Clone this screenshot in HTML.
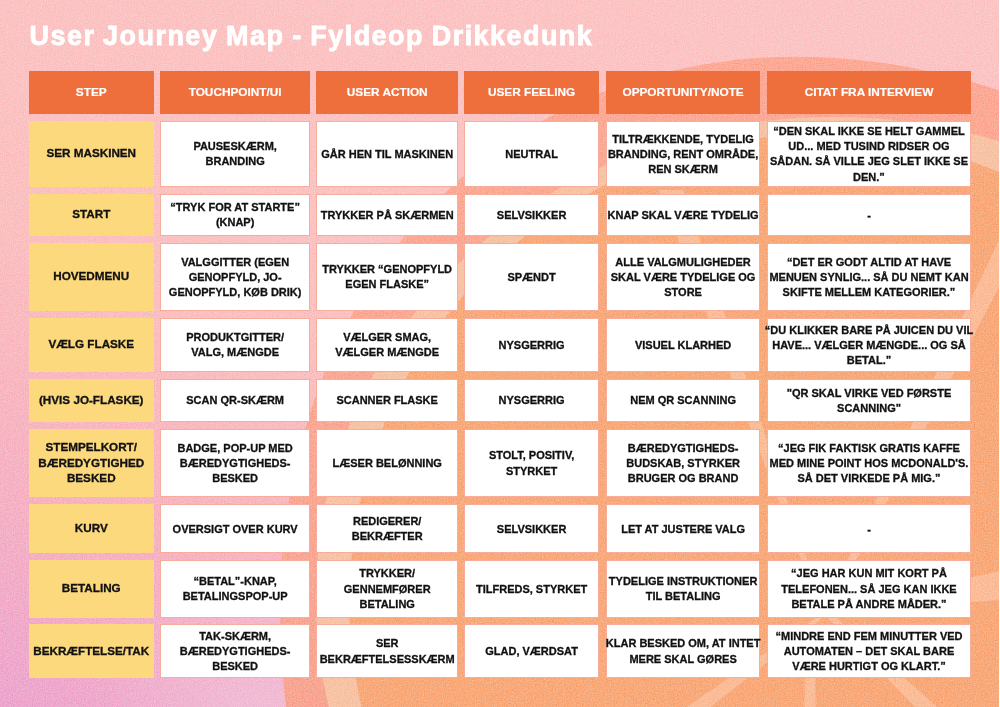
<!DOCTYPE html>
<html><head><meta charset="utf-8"><title>User Journey Map</title>
<style>
html,body{margin:0;padding:0}
body{width:1000px;height:707px;overflow:hidden;position:relative;background:#f9c4c4;font-family:"Liberation Sans",sans-serif}
.bg{position:absolute;left:0;top:0;width:1000px;height:707px;display:block}
.circ{position:absolute;border-radius:50%}
.title{position:absolute;left:29.5px;top:16px;font-weight:bold;font-size:27px;line-height:40px;color:#fff;white-space:nowrap;letter-spacing:1.45px;word-spacing:-1.2px;-webkit-text-stroke:0.8px #fff}
.c{position:absolute;box-sizing:border-box;display:flex;align-items:center;justify-content:center;text-align:center;font-weight:bold;white-space:nowrap}
.c span{display:block}
.h{background:#ee6e3c;color:#fff;font-size:11.8px;line-height:15px;-webkit-text-stroke:0.2px #fff}
.y{background:#fdd97e;color:#111;font-size:11.7px;line-height:15.5px;-webkit-text-stroke:0.3px #111}
.w{background:#fff;color:#111;font-size:11px;line-height:15.2px;border:1px solid #f7ad9c;-webkit-text-stroke:0.3px #111}
.c span{position:relative;top:0.6px}
.y span{top:-0.7px}
.edge{position:absolute;right:0;top:0;width:1px;height:707px;background:#fff}

</style></head><body>
<svg class="bg" width="1000" height="707" viewBox="0 0 1000 707">
<defs>
<linearGradient id="bgg" x1="0.7" y1="0" x2="0" y2="1">
<stop offset="0" stop-color="#fcc5c5"/>
<stop offset="0.4" stop-color="#fcc3c3"/>
<stop offset="0.54" stop-color="#fbc0c0"/>
<stop offset="0.68" stop-color="#f9b8c1"/>
<stop offset="0.82" stop-color="#f5b1c6"/>
<stop offset="1" stop-color="#eda6cf"/>
</linearGradient>
<radialGradient id="glow" cx="260" cy="715" r="170" gradientUnits="userSpaceOnUse">
<stop offset="0" stop-color="#f0c8e0" stop-opacity="0.6"/>
<stop offset="1" stop-color="#f0c8e0" stop-opacity="0"/>
</radialGradient>
<linearGradient id="rindg" x1="0.6" y1="0" x2="0.2" y2="0.9">
<stop offset="0" stop-color="#fdaa96"/>
<stop offset="1" stop-color="#f3a090"/>
</linearGradient>
<filter id="nz" x="0" y="0" width="100%" height="100%" color-interpolation-filters="sRGB"><feTurbulence type="fractalNoise" baseFrequency="0.9" numOctaves="2" seed="3" stitchTiles="stitch"/><feColorMatrix type="matrix" values="0.33 0.33 0.33 0 0  0.33 0.33 0.33 0 0  0.33 0.33 0.33 0 0  0 0 0 0 1"/><feComponentTransfer><feFuncR type="linear" slope="3" intercept="-1"/><feFuncG type="linear" slope="3" intercept="-1"/><feFuncB type="linear" slope="3" intercept="-1"/></feComponentTransfer></filter>
<clipPath id="fc"><circle cx="815.6" cy="600.9" r="466.3"/></clipPath>
</defs>
<rect width="1000" height="707" fill="url(#bgg)"/>
<rect width="1000" height="707" fill="url(#glow)"/>
<ellipse cx="934.2" cy="760.2" rx="599.4" ry="750.9" transform="rotate(-35.48 934.2 760.2)" fill="url(#rindg)"/>
<ellipse cx="851.7" cy="614.6" rx="537.9" ry="495.6" transform="rotate(12.52 851.7 614.6)" fill="#f7c4a6"/>
<circle cx="815.6" cy="600.9" r="466.3" fill="#f9aa7b"/>
<g clip-path="url(#fc)" fill="#fcc6a6" opacity="0.7">
<polygon points="826,610 826,614 1000,600 1000,571"/>
<polygon points="824,610 828,614 1012,262 1000,238"/>
<polygon points="824,612 828,614 694,720 668,720"/>
<polygon points="806,630 814,630 816,720 804,720"/>
<polygon points="824,614 828,610 952,720 928,720"/>
<polygon points="820,608 824,610 683,190 659,190"/>
</g>
<rect width="1000" height="707" filter="url(#nz)" opacity="0.2" style="mix-blend-mode:overlay"/>
<rect x="999" y="0" width="1" height="707" fill="#fff"/>
</svg>
<div class="title">User Journey Map - Fyldeop Drikkedunk</div>
<div class="c h" style="left:28.5px;top:70.75px;width:125.50px;height:43.15px"><span>STEP</span></div>
<div class="c h" style="left:160.3px;top:70.75px;width:149.70px;height:43.15px"><span>TOUCHPOINT/UI</span></div>
<div class="c h" style="left:316.4px;top:70.75px;width:141.60px;height:43.15px"><span>USER ACTION</span></div>
<div class="c h" style="left:464.2px;top:70.75px;width:134.80px;height:43.15px"><span>USER FEELING</span></div>
<div class="c h" style="left:606px;top:70.75px;width:154.20px;height:43.15px"><span>OPPORTUNITY/NOTE</span></div>
<div class="c h" style="left:767px;top:70.75px;width:204.00px;height:43.15px"><span>CITAT FRA INTERVIEW</span></div>
<div class="c y" style="left:28.5px;top:120.65px;width:125.50px;height:66.35px"><span>SER MASKINEN</span></div>
<div class="c w" style="left:160.3px;top:120.65px;width:149.70px;height:66.35px"><span>PAUSESKÆRM,<br>BRANDING</span></div>
<div class="c w" style="left:316.4px;top:120.65px;width:141.60px;height:66.35px"><span>GÅR HEN TIL MASKINEN</span></div>
<div class="c w" style="left:464.2px;top:120.65px;width:134.80px;height:66.35px"><span>NEUTRAL</span></div>
<div class="c w" style="left:606px;top:120.65px;width:154.20px;height:66.35px"><span>TILTRÆKKENDE, TYDELIG<br>BRANDING, RENT OMRÅDE,<br>REN SKÆRM</span></div>
<div class="c w" style="left:767px;top:120.65px;width:204.00px;height:66.35px"><span>“DEN SKAL IKKE SE HELT GAMMEL<br>UD... MED TUSIND RIDSER OG<br>SÅDAN. SÅ VILLE JEG SLET IKKE SE<br>DEN.”</span></div>
<div class="c y" style="left:28.5px;top:193.65px;width:125.50px;height:42.10px"><span>START</span></div>
<div class="c w" style="left:160.3px;top:193.65px;width:149.70px;height:42.10px"><span>“TRYK FOR AT STARTE”<br>(KNAP)</span></div>
<div class="c w" style="left:316.4px;top:193.65px;width:141.60px;height:42.10px"><span>TRYKKER PÅ SKÆRMEN</span></div>
<div class="c w" style="left:464.2px;top:193.65px;width:134.80px;height:42.10px"><span>SELVSIKKER</span></div>
<div class="c w" style="left:606px;top:193.65px;width:154.20px;height:42.10px"><span>KNAP SKAL VÆRE TYDELIG</span></div>
<div class="c w" style="left:767px;top:193.65px;width:204.00px;height:42.10px"><span>-</span></div>
<div class="c y" style="left:28.5px;top:242.5px;width:125.50px;height:68.50px"><span>HOVEDMENU</span></div>
<div class="c w" style="left:160.3px;top:242.5px;width:149.70px;height:68.50px"><span>VALGGITTER (EGEN<br>GENOPFYLD, JO-<br>GENOPFYLD, KØB DRIK)</span></div>
<div class="c w" style="left:316.4px;top:242.5px;width:141.60px;height:68.50px"><span>TRYKKER “GENOPFYLD<br>EGEN FLASKE”</span></div>
<div class="c w" style="left:464.2px;top:242.5px;width:134.80px;height:68.50px"><span>SPÆNDT</span></div>
<div class="c w" style="left:606px;top:242.5px;width:154.20px;height:68.50px"><span>ALLE VALGMULIGHEDER<br>SKAL VÆRE TYDELIGE OG<br>STORE</span></div>
<div class="c w" style="left:767px;top:242.5px;width:204.00px;height:68.50px"><span>“DET ER GODT ALTID AT HAVE<br>MENUEN SYNLIG... SÅ DU NEMT KAN<br>SKIFTE MELLEM KATEGORIER.”</span></div>
<div class="c y" style="left:28.5px;top:317.6px;width:125.50px;height:54.30px"><span>VÆLG FLASKE</span></div>
<div class="c w" style="left:160.3px;top:317.6px;width:149.70px;height:54.30px"><span>PRODUKTGITTER/<br>VALG, MÆNGDE</span></div>
<div class="c w" style="left:316.4px;top:317.6px;width:141.60px;height:54.30px"><span>VÆLGER SMAG,<br>VÆLGER MÆNGDE</span></div>
<div class="c w" style="left:464.2px;top:317.6px;width:134.80px;height:54.30px"><span>NYSGERRIG</span></div>
<div class="c w" style="left:606px;top:317.6px;width:154.20px;height:54.30px"><span>VISUEL KLARHED</span></div>
<div class="c w" style="left:767px;top:317.6px;width:204.00px;height:54.30px"><span>“DU KLIKKER BARE PÅ JUICEN DU VIL<br>HAVE... VÆLGER MÆNGDE... OG SÅ<br>BETAL.”</span></div>
<div class="c y" style="left:28.5px;top:378.7px;width:125.50px;height:43.30px"><span>(HVIS JO-FLASKE)</span></div>
<div class="c w" style="left:160.3px;top:378.7px;width:149.70px;height:43.30px"><span>SCAN QR-SKÆRM</span></div>
<div class="c w" style="left:316.4px;top:378.7px;width:141.60px;height:43.30px"><span>SCANNER FLASKE</span></div>
<div class="c w" style="left:464.2px;top:378.7px;width:134.80px;height:43.30px"><span>NYSGERRIG</span></div>
<div class="c w" style="left:606px;top:378.7px;width:154.20px;height:43.30px"><span>NEM QR SCANNING</span></div>
<div class="c w" style="left:767px;top:378.7px;width:204.00px;height:43.30px"><span>"QR SKAL VIRKE VED FØRSTE<br>SCANNING"</span></div>
<div class="c y" style="left:28.5px;top:428.7px;width:125.50px;height:68.50px"><span>STEMPELKORT/<br>BÆREDYGTIGHED<br>BESKED</span></div>
<div class="c w" style="left:160.3px;top:428.7px;width:149.70px;height:68.50px"><span>BADGE, POP-UP MED<br>BÆREDYGTIGHEDS-<br>BESKED</span></div>
<div class="c w" style="left:316.4px;top:428.7px;width:141.60px;height:68.50px"><span>LÆSER BELØNNING</span></div>
<div class="c w" style="left:464.2px;top:428.7px;width:134.80px;height:68.50px"><span>STOLT, POSITIV,<br>STYRKET</span></div>
<div class="c w" style="left:606px;top:428.7px;width:154.20px;height:68.50px"><span>BÆREDYGTIGHEDS-<br>BUDSKAB, STYRKER<br>BRUGER OG BRAND</span></div>
<div class="c w" style="left:767px;top:428.7px;width:204.00px;height:68.50px"><span>“JEG FIK FAKTISK GRATIS KAFFE<br>MED MINE POINT HOS MCDONALD'S.<br>SÅ DET VIRKEDE PÅ MIG.”</span></div>
<div class="c y" style="left:28.5px;top:504px;width:125.50px;height:49.30px"><span>KURV</span></div>
<div class="c w" style="left:160.3px;top:504px;width:149.70px;height:49.30px"><span>OVERSIGT OVER KURV</span></div>
<div class="c w" style="left:316.4px;top:504px;width:141.60px;height:49.30px"><span>REDIGERER/<br>BEKRÆFTER</span></div>
<div class="c w" style="left:464.2px;top:504px;width:134.80px;height:49.30px"><span>SELVSIKKER</span></div>
<div class="c w" style="left:606px;top:504px;width:154.20px;height:49.30px"><span>LET AT JUSTERE VALG</span></div>
<div class="c w" style="left:767px;top:504px;width:204.00px;height:49.30px"><span>-</span></div>
<div class="c y" style="left:28.5px;top:559.8px;width:125.50px;height:57.80px"><span>BETALING</span></div>
<div class="c w" style="left:160.3px;top:559.8px;width:149.70px;height:57.80px"><span>“BETAL”-KNAP,<br>BETALINGSPOP-UP</span></div>
<div class="c w" style="left:316.4px;top:559.8px;width:141.60px;height:57.80px"><span>TRYKKER/<br>GENNEMFØRER<br>BETALING</span></div>
<div class="c w" style="left:464.2px;top:559.8px;width:134.80px;height:57.80px"><span>TILFREDS, STYRKET</span></div>
<div class="c w" style="left:606px;top:559.8px;width:154.20px;height:57.80px"><span>TYDELIGE INSTRUKTIONER<br>TIL BETALING</span></div>
<div class="c w" style="left:767px;top:559.8px;width:204.00px;height:57.80px"><span>“JEG HAR KUN MIT KORT PÅ<br>TELEFONEN... SÅ JEG KAN IKKE<br>BETALE PÅ ANDRE MÅDER.”</span></div>
<div class="c y" style="left:28.5px;top:624px;width:125.50px;height:54.20px"><span>BEKRÆFTELSE/TAK</span></div>
<div class="c w" style="left:160.3px;top:624px;width:149.70px;height:54.20px"><span>TAK-SKÆRM,<br>BÆREDYGTIGHEDS-<br>BESKED</span></div>
<div class="c w" style="left:316.4px;top:624px;width:141.60px;height:54.20px"><span>SER<br>BEKRÆFTELSESSKÆRM</span></div>
<div class="c w" style="left:464.2px;top:624px;width:134.80px;height:54.20px"><span>GLAD, VÆRDSAT</span></div>
<div class="c w" style="left:606px;top:624px;width:154.20px;height:54.20px"><span>KLAR BESKED OM, AT INTET<br>MERE SKAL GØRES</span></div>
<div class="c w" style="left:767px;top:624px;width:204.00px;height:54.20px"><span>“MINDRE END FEM MINUTTER VED<br>AUTOMATEN – DET SKAL BARE<br>VÆRE HURTIGT OG KLART.”</span></div>
</body></html>
